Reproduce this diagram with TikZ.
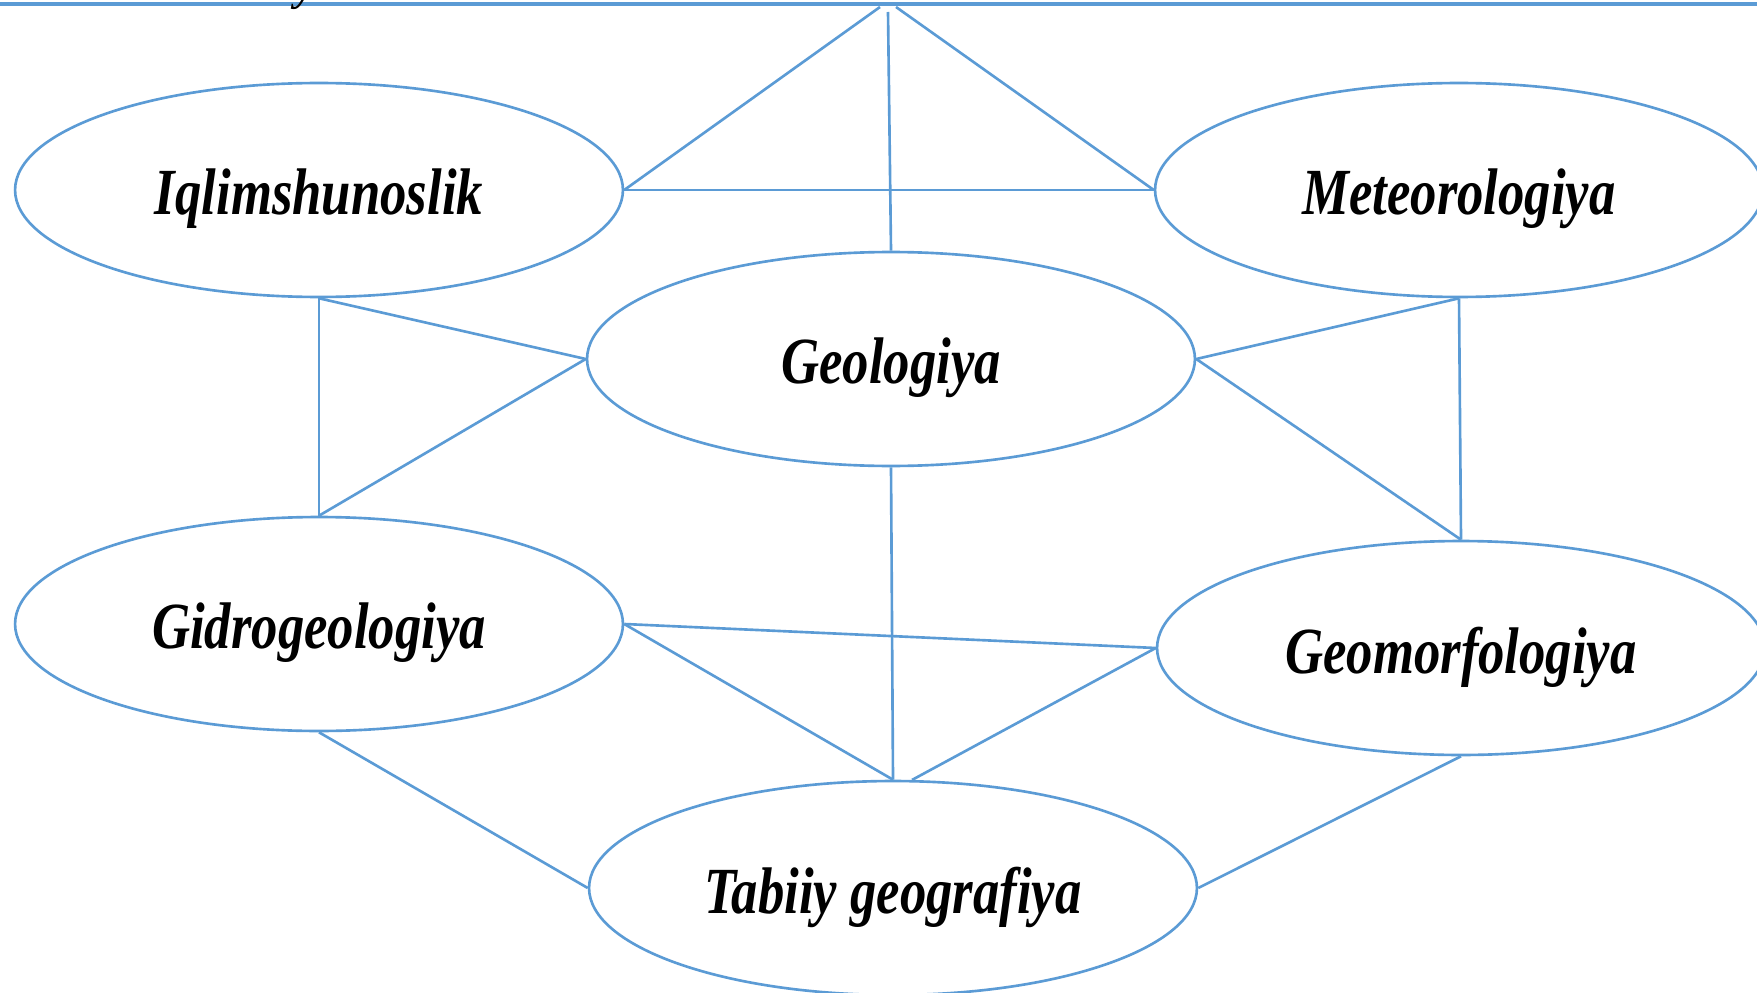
\documentclass[tikz,border=0pt]{standalone}
\usepackage{fontspec}
\setmainfont{Liberation Serif}
\usetikzlibrary{shapes.geometric}
\definecolor{lineblue}{HTML}{5B9BD5}
\newcommand{\tallword}[1]{\raisebox{-0.18cm}[\height][\depth]{\scalebox{1}[1.25]{#1}}}

\begin{document}
\begin{tikzpicture}[x=0.02cm, y=-0.02cm,
  subject/.style={ellipse, draw=lineblue, line width=1.5pt, fill=white,
    minimum width=12.16cm, minimum height=4.28cm, inner sep=0pt,
    font=\fontsize{30}{36}\selectfont\bfseries\itshape},
  link/.style={draw=lineblue, line width=1.5pt}]
  \useasboundingbox (0,0) rectangle (1757,993);

  % rule along the top edge, with the cut-off letter above it
  \draw[link, line width=2.2pt] (0,4) -- (1757,4);
  \node[font=\fontsize{24}{28}\selectfont\bfseries\itshape, anchor=base, inner sep=0pt] (cut) at (305,1) {y};
  \coordinate (apexL) at (880,7);
  \coordinate (apexR) at (896,7);
  \coordinate (apexV) at (888,12);

  % subjects
  \node[subject] (iqlim) at (319,190) {\tallword{Iqlimshunoslik}};
  \node[subject] (meteo) at (1459,190) {\tallword{Meteorologiya}};
  \node[subject] (geol) at (891,359) {\tallword{Geologiya}};
  \node[subject] (gidro) at (319,624) {\tallword{Gidrogeologiya}};
  \node[subject] (geomorf) at (1461,648) {\tallword{Geomorfologiya}};
  \node[subject] (tabiiy) at (893,888) {\tallword{Tabiiy geografiya}};

  % links from the top
  \draw[link] (apexL) -- (iqlim.east);
  \draw[link] (apexR) -- (meteo.west);
  \draw[link] (apexV) -- (geol.north);
  \draw[link] (iqlim.east) -- (meteo.west);

  % links round Geologiya
  \draw[link] (iqlim.south) -- (gidro.north);
  \draw[link] (iqlim.south) -- (geol.west);
  \draw[link] (geol.west) -- (gidro.north);
  \draw[link] (meteo.south) -- (geol.east);
  \draw[link] (meteo.south) -- (geomorf.north);
  \draw[link] (geol.east) -- (geomorf.north);
  \draw[link] (geol.south) -- (tabiiy.north);

  % links down to Tabiiy geografiya
  \draw[link] (gidro.east) -- (geomorf.west);
  \draw[link] (gidro.east) -- (tabiiy.north);
  \draw[link] (geomorf.west) -- (tabiiy.80);
  \draw[link] (gidro.south) -- (tabiiy.west);
  \draw[link] (geomorf.south) -- (tabiiy.east);
\end{tikzpicture}
\end{document}
